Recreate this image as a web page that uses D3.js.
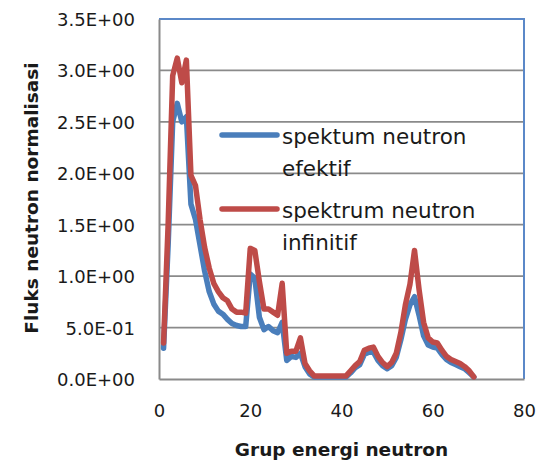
<!DOCTYPE html>
<html>
<head>
<meta charset="utf-8">
<script src="https://cdn.jsdelivr.net/npm/d3@7/dist/d3.min.js"></script>
<style>
  html, body { margin: 0; padding: 0; background: #fff; }
  svg { display: block; }
  text { font-family: "DejaVu Sans", sans-serif; fill: #1a1a1a; }
</style>
</head>
<body>
<svg id="chart" width="545" height="463"></svg>
<script>
// ---- data ----
const groups = d3.range(1, 70); // energy groups 1..69
const effektif = [
  0.30, 1.30, 2.50, 2.68, 2.50, 2.55, 1.70, 1.55, 1.30, 1.05,
  0.85, 0.73, 0.66, 0.63, 0.58, 0.54, 0.52, 0.51, 0.51, 1.02,
  0.98, 0.60, 0.48, 0.51, 0.47, 0.45, 0.55, 0.18, 0.22, 0.21,
  0.25, 0.12, 0.05, 0.02, 0.02, 0.02, 0.02, 0.02, 0.02, 0.02,
  0.02, 0.06, 0.11, 0.14, 0.24, 0.26, 0.26, 0.18, 0.13, 0.10,
  0.13, 0.21, 0.38, 0.58, 0.72, 0.80, 0.62, 0.42, 0.33, 0.31,
  0.30, 0.24, 0.19, 0.16, 0.14, 0.12, 0.10, 0.06, 0.02
];
const infinitif = [
  0.35, 1.50, 2.95, 3.12, 2.88, 3.10, 1.98, 1.88, 1.55, 1.28,
  1.08, 0.93, 0.85, 0.79, 0.76, 0.68, 0.65, 0.65, 0.64, 1.27,
  1.25, 0.95, 0.68, 0.68, 0.65, 0.62, 0.93, 0.25, 0.27, 0.27,
  0.40, 0.15, 0.08, 0.03, 0.03, 0.03, 0.03, 0.03, 0.03, 0.03,
  0.03, 0.08, 0.13, 0.17, 0.28, 0.30, 0.31, 0.22, 0.16, 0.12,
  0.16, 0.25, 0.45, 0.72, 0.92, 1.25, 0.87, 0.55, 0.40, 0.36,
  0.35, 0.28, 0.22, 0.19, 0.17, 0.15, 0.12, 0.08, 0.02
];
const xTicks = [0, 20, 40, 60, 80];
const yTicks = [0, 0.5, 1.0, 1.5, 2.0, 2.5, 3.0, 3.5];
const yTickLabels = ["0.0E+00", "5.0E-01", "1.0E+00", "1.5E+00", "2.0E+00", "2.5E+00", "3.0E+00", "3.5E+00"];
const seriesNames = ["spektum neutron|efektif", "spektrum neutron|infinitif"];
const seriesColors = ["#4A7EBB", "#BE4B48"];
const xTitle = "Grup energi neutron";
const yTitle = "Fluks neutron normalisasi";

// ---- layout ----
const L = 159, R = 524, T = 19, B = 379;
const svg = d3.select("#chart");
const x = d3.scaleLinear().domain([0, 80]).range([L, R]);
const y = d3.scaleLinear().domain([0, 3.5]).range([B, T]);

// gridlines
svg.append("g").selectAll("line")
  .data(yTicks.filter(v => v > 0 && v < 3.5))
  .join("line")
  .attr("x1", L).attr("x2", R)
  .attr("y1", d => y(d)).attr("y2", d => y(d))
  .attr("stroke", "#8a8a8a").attr("stroke-width", 1.8);

// plot border (blue top/right)
svg.append("path")
  .attr("d", `M${L},${T}H${R}V${B}`)
  .attr("fill", "none").attr("stroke", "#5B88C8").attr("stroke-width", 2);

// axes (gray left/bottom) using d3 axes without ticks
const yAxis = svg.append("g").attr("transform", `translate(${L},0)`)
  .call(d3.axisLeft(y).tickValues(yTicks).tickSize(0).tickFormat((d, i) => yTickLabels[i]).tickPadding(24));
yAxis.select(".domain").attr("stroke", "#8a8a8a").attr("stroke-width", 2);
yAxis.selectAll("text").attr("font-size", 18).attr("font-family", "DejaVu Sans")
  .attr("fill", "#1a1a1a").attr("dy", "0.36em");

const xAxis = svg.append("g").attr("transform", `translate(0,${B})`)
  .call(d3.axisBottom(x).tickValues(xTicks).tickSize(0).tickPadding(25));
xAxis.select(".domain").attr("stroke", "#8a8a8a").attr("stroke-width", 2);
xAxis.selectAll("text").attr("font-size", 18).attr("font-family", "DejaVu Sans")
  .attr("fill", "#1a1a1a").attr("dy", "0.71em");

// lines
const line = d3.line().x((d, i) => x(groups[i])).y(d => y(d));
[effektif, infinitif].forEach((s, k) => {
  svg.append("path").datum(s)
    .attr("d", line)
    .attr("fill", "none")
    .attr("stroke", seriesColors[k])
    .attr("stroke-width", 5.5)
    .attr("stroke-linejoin", "round")
    .attr("stroke-linecap", "round");
});

// legend
const legY = [135, 209];
seriesNames.forEach((name, k) => {
  const g = svg.append("g");
  g.append("line").attr("x1", 222).attr("x2", 277)
    .attr("y1", legY[k]).attr("y2", legY[k])
    .attr("stroke", seriesColors[k]).attr("stroke-width", 5.5).attr("stroke-linecap", "round");
  const parts = name.split("|");
  parts.forEach((p, j) => {
    g.append("text").attr("x", 282).attr("y", legY[k] + 9 + j * 32)
      .attr("font-size", 21.5).text(p);
  });
});

// axis titles
svg.append("text").attr("x", (L + R) / 2).attr("y", 456)
  .attr("text-anchor", "middle").attr("font-size", 18.5).attr("font-weight", "bold")
  .text(xTitle);
svg.append("text").attr("transform", `translate(38,198) rotate(-90)`)
  .attr("text-anchor", "middle").attr("font-size", 18.5).attr("font-weight", "bold")
  .text(yTitle);
</script>
</body>
</html>
